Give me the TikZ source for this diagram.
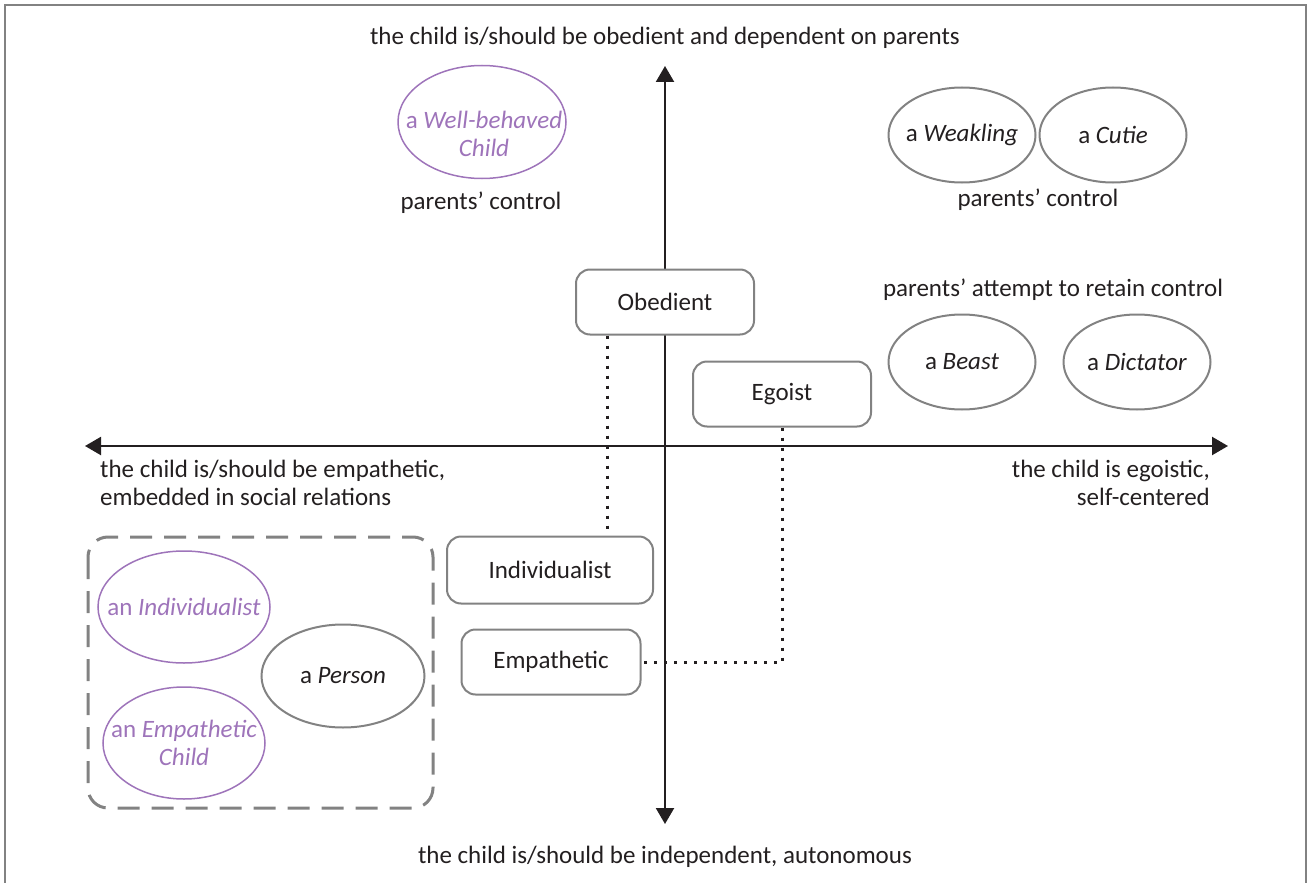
\documentclass[tikz,border=0pt]{standalone}
\usepackage{fontspec}
\setmainfont{Carlito}
\usetikzlibrary{arrows.meta,shapes.geometric,positioning}

\definecolor{ink}{RGB}{35,31,32}
\definecolor{lilac}{RGB}{158,116,186}
\definecolor{frame}{RGB}{130,130,130}

% keep the ellipse at its own size, however long the text
\newcommand\squeezed[1]{\makebox[0pt]{#1}}

\begin{document}
\begin{tikzpicture}[x=1pt,y=-1pt,font=\fontsize{25}{28}\selectfont,text=ink,
    view box/.style={draw=frame,fill=white,line width=2pt,rounded corners=14pt,
                     minimum height=65pt,inner sep=0pt},
    child/.style={ellipse,draw=frame,line width=2pt,inner sep=0pt,align=center,
                  minimum width=147pt,minimum height=95pt},
    ideal/.style={child,draw=lilac,line width=1.5pt,text=lilac},
    axis/.style={draw=ink,line width=2.2pt,
                 {Triangle[length=16pt,width=18pt]}-{Triangle[length=16pt,width=18pt]}},
    dots/.style={draw=ink,line width=3pt,dash pattern=on 3pt off 7pt}]

  \useasboundingbox (0,0) rectangle (1307,883);
  \draw[frame,line width=2.5pt] (5,883) -- (5,5) -- (1306,5) -- (1306,883);

  % axes
  \coordinate (top) at (665,66);
  \coordinate (bottom) at (665,824);
  \coordinate (left) at (85,446);
  \coordinate (right) at (1228,446);
  \draw[axis] (bottom) -- (top);
  \draw[axis] (left) -- (right);

  \node (north label) at (665,38) {the child is/should be obedient and dependent on parents};
  \node (south label) at (665,857) {the child is/should be independent, autonomous};
  \node[align=left,anchor=west,inner sep=0pt] (west label) at (100,483)
    {the child is/should be empathetic,\\embedded in social relations};
  \node[align=right,anchor=east,inner sep=0pt] (east label) at (1210,483)
    {the child is egoistic,\\self-centered};

  % upper half
  \node[ideal,minimum width=168pt,minimum height=113pt] (wellbehaved) at (482,122) {};
  \node[text=lilac,align=center,inner sep=0pt] (wellbehaved text) at (484,134)
    {a \textit{Well-behaved}\\\textit{Child}};
  \node (control left) at (481,203) {parents' control};
  \node[child] (weakling) at (962,135) {\squeezed{a \textit{Weakling}}};
  \node[child] (cutie) at (1113,135) {\squeezed{a \textit{Cutie}}};
  \node (control right) at (1038,200) {parents' control};
  \node (attempt) at (1053,290) {parents' attempt to retain control};
  \node[child] (beast) at (962,362) {\squeezed{a \textit{Beast}}};
  \node[child] (dictator) at (1137,362) {\squeezed{a \textit{Dictator}}};

  % views
  \node[view box,minimum width=178pt] (obedient) at (665,302) {Obedient};
  \node[view box,minimum width=178pt] (egoist) at (782,394) {Egoist};
  \node[view box,minimum width=206pt,minimum height=67pt] (individualist) at (550,570) {Individualist};
  \node[view box,minimum width=179pt] (empathetic) at (551,662) {Empathetic};

  \coordinate (drop) at ([xshift=-58pt]obedient.south);
  \draw[dots] (drop) -- (drop |- individualist.north);
  \draw[dots] (egoist.south) |- (empathetic.east);

  % lower left group
  \draw[frame,line width=3pt,dash pattern=on 22pt off 12pt,rounded corners=20pt]
    (88,537) rectangle (433,808);
  \node[ideal,minimum width=172pt,minimum height=112pt] (individualist ideal) at (184,607)
    {\squeezed{an \textit{Individualist}}};
  \node[child,minimum width=163pt,minimum height=103pt] (person) at (343,676)
    {\squeezed{a \textit{Person}}};
  \node[ideal,minimum width=162pt,minimum height=112pt] (empathetic ideal) at (184,743)
    {\squeezed{an \textit{Empathetic}}\\\squeezed{\textit{Child}}};
\end{tikzpicture}
\end{document}
